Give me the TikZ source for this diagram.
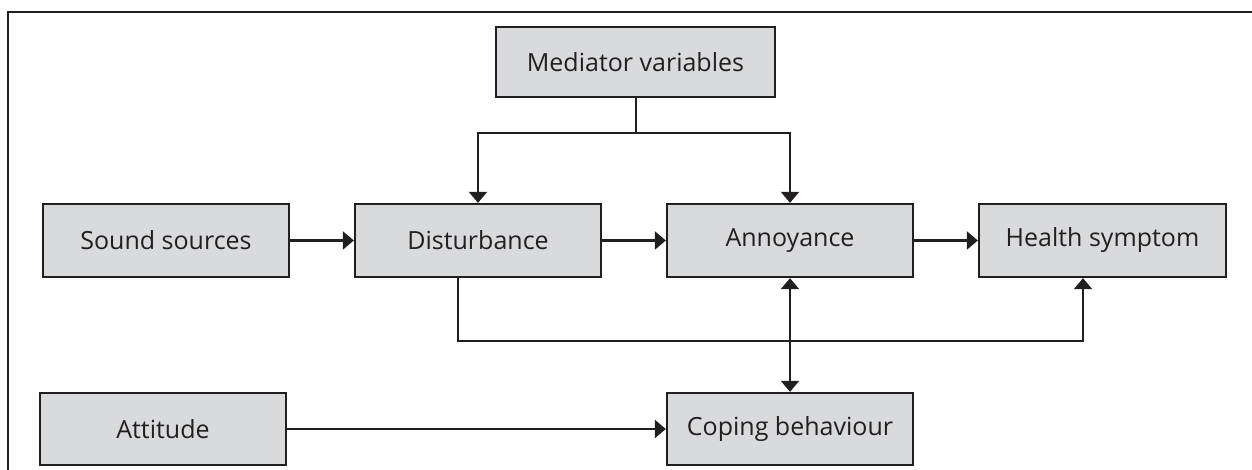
\documentclass[tikz,border=0pt]{standalone}
\usepackage{fontspec}
\setmainfont{Open Sans}
\usetikzlibrary{arrows.meta}
\definecolor{boxfill}{RGB}{217,218,220}
\definecolor{ink}{RGB}{35,31,32}
\begin{document}
\begin{tikzpicture}[x=1pt,y=-1pt,
  box/.style={draw=ink,fill=boxfill,line width=2.3pt,inner sep=0pt,font=\fontsize{25}{28}\selectfont,text=ink},
  conn/.style={draw=ink,line width=2.2pt},
  arr/.style={conn,-{Triangle[length=11pt,width=18pt]}},
  darr/.style={conn,{Triangle[length=11pt,width=18pt]}-{Triangle[length=11pt,width=18pt]}}]
\useasboundingbox (0,0) rectangle (1252,470);
\draw[ink,line width=2.6pt] (8,471) -- (8,12) -- (1253,12);
\node[box,minimum width=279pt,minimum height=70pt] (med) at (635.5,62) {Mediator variables};
\node[box,minimum width=246pt,minimum height=73pt] (snd) at (166,240.5) {Sound sources};
\node[box,minimum width=246pt,minimum height=73pt] (dis) at (478,240.5) {Disturbance};
\node[box,minimum width=246pt,minimum height=73pt] (ann) at (790,240.5) {Annoyance};
\node[box,minimum width=247pt,minimum height=73pt] (hea) at (1102.5,240.5) {Health symptom};
\node[box,minimum width=246pt,minimum height=72pt] (att) at (163,429) {Attitude};
\node[box,minimum width=246pt,minimum height=72pt] (cop) at (790,429) {Coping behaviour};
\coordinate (j) at (636,133);
\draw[conn] (med.south -| j) -- (j);
\draw[arr] (j) -| (dis.north);
\draw[arr] (j) -| (ann.north);
\draw[arr] (snd) -- (dis);
\draw[arr] (dis) -- (ann);
\draw[arr] (ann) -- (hea);
\draw[arr] (att) -- (cop);
\draw[darr] (ann.south) -- (cop.north);
\coordinate (b1) at (458,341);
\coordinate (b2) at (1083,341);
\draw[arr] (dis.south -| b1) -- (b1) -- (b2) -- (hea.south -| b2);
\end{tikzpicture}
\end{document}
